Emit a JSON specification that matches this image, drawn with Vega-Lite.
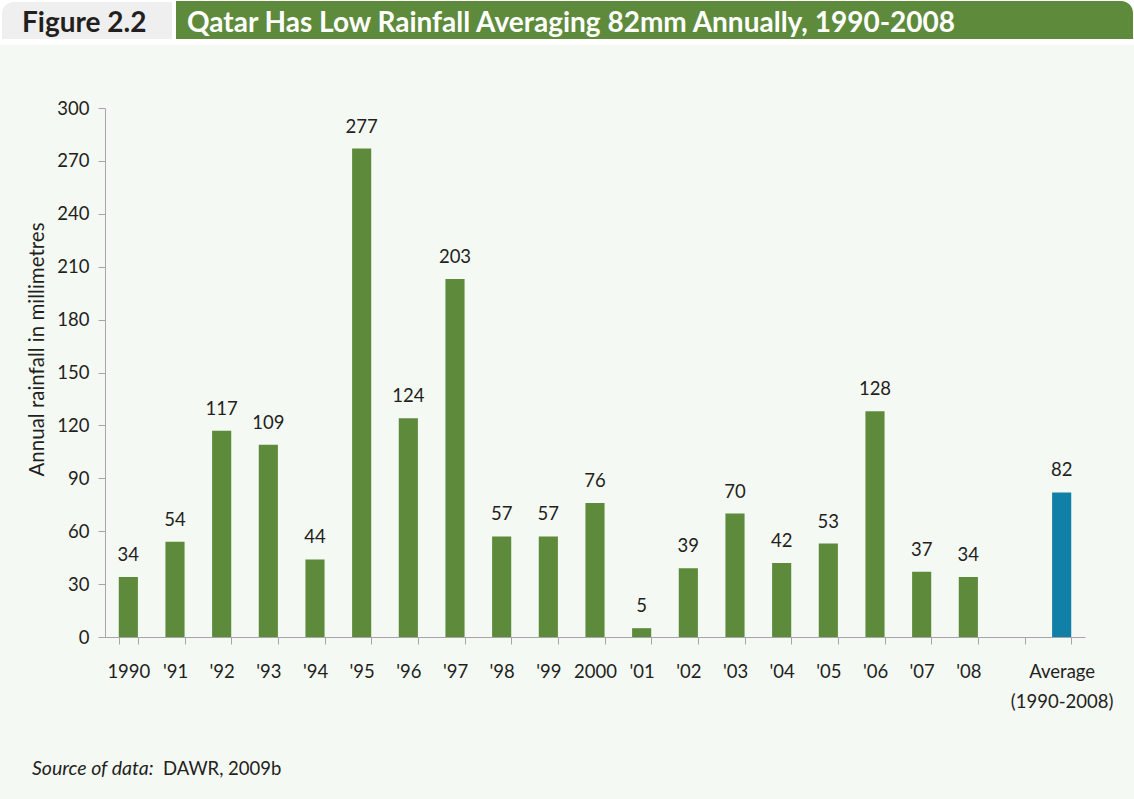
{
  "$schema": "https://vega.github.io/schema/vega-lite/v6.json",
  "width": 980,
  "height": 529,
  "autosize": {"type": "none"},
  "padding": {"left": 105, "top": 108, "right": 49, "bottom": 162},
  "background": "#ffffff",
  "config": {
    "view": {"stroke": null},
    "font": "Lato",
    "text": {"font": "Lato"}
  },
  "datasets": {
    "rain": [
      {"year": "1990", "rainfall": 34, "kind": "year"},
      {"year": "'91", "rainfall": 54, "kind": "year"},
      {"year": "'92", "rainfall": 117, "kind": "year"},
      {"year": "'93", "rainfall": 109, "kind": "year"},
      {"year": "'94", "rainfall": 44, "kind": "year"},
      {"year": "'95", "rainfall": 277, "kind": "year"},
      {"year": "'96", "rainfall": 124, "kind": "year"},
      {"year": "'97", "rainfall": 203, "kind": "year"},
      {"year": "'98", "rainfall": 57, "kind": "year"},
      {"year": "'99", "rainfall": 57, "kind": "year"},
      {"year": "2000", "rainfall": 76, "kind": "year"},
      {"year": "'01", "rainfall": 5, "kind": "year"},
      {"year": "'02", "rainfall": 39, "kind": "year"},
      {"year": "'03", "rainfall": 70, "kind": "year"},
      {"year": "'04", "rainfall": 42, "kind": "year"},
      {"year": "'05", "rainfall": 53, "kind": "year"},
      {"year": "'06", "rainfall": 128, "kind": "year"},
      {"year": "'07", "rainfall": 37, "kind": "year"},
      {"year": "'08", "rainfall": 34, "kind": "year"},
      {"year": "Average", "rainfall": 82, "kind": "average"}
    ]
  },
  "layer": [
    {
      "data": {"values": [{}]},
      "mark": {"type": "rect", "fill": "#f5f9f4", "clip": false},
      "encoding": {
        "x": {"value": -105}, "x2": {"value": 1029},
        "y": {"value": -63}, "y2": {"value": 691}
      }
    },
    {
      "data": {"values": [{}]},
      "mark": {"type": "rect", "fill": "#efefef", "cornerRadiusTopLeft": 12, "clip": false},
      "encoding": {
        "x": {"value": -103}, "x2": {"value": 67},
        "y": {"value": -106}, "y2": {"value": -69}
      }
    },
    {
      "data": {"values": [{}]},
      "mark": {"type": "rect", "fill": "#5e8a3c", "cornerRadiusTopRight": 12, "clip": false},
      "encoding": {
        "x": {"value": 71}, "x2": {"value": 1028},
        "y": {"value": -107}, "y2": {"value": -69}
      }
    },
    {
      "data": {"values": [{"t": "Figure 2.2"}]},
      "mark": {"type": "text", "font": "Lato", "fontWeight": "bold", "fontSize": 28, "align": "left", "baseline": "alphabetic", "color": "#231f20"},
      "encoding": {"x": {"value": -83}, "y": {"value": -76}, "text": {"field": "t"}}
    },
    {
      "data": {"values": [{"t": "Qatar Has Low Rainfall Averaging 82mm Annually, 1990-2008"}]},
      "mark": {"type": "text", "font": "Lato", "fontWeight": "bold", "fontSize": 28, "align": "left", "baseline": "alphabetic", "color": "#ffffff"},
      "encoding": {"x": {"value": 82}, "y": {"value": -76}, "text": {"field": "t"}}
    },
    {
      "data": {"values": [{"t": "Source of data:"}]},
      "mark": {"type": "text", "font": "Lato", "fontStyle": "italic", "fontSize": 19.5, "align": "left", "baseline": "alphabetic", "color": "#231f20"},
      "encoding": {"x": {"value": -73}, "y": {"value": 667}, "text": {"field": "t"}}
    },
    {
      "data": {"values": [{"t": "DAWR, 2009b"}]},
      "mark": {"type": "text", "font": "Lato", "fontSize": 18.5, "align": "left", "baseline": "alphabetic", "color": "#231f20"},
      "encoding": {"x": {"value": 58}, "y": {"value": 667}, "text": {"field": "t"}}
    },
    {
      "data": {"name": "rain"},
      "mark": {"type": "bar"},
      "encoding": {
        "x": {
          "field": "year", "type": "nominal", "sort": null,
          "scale": {
            "domain": ["1990", "'91", "'92", "'93", "'94", "'95", "'96", "'97", "'98", "'99", "2000", "'01", "'02", "'03", "'04", "'05", "'06", "'07", "'08", " ", "Average"],
            "paddingInner": 0.59, "paddingOuter": 0.295
          },
          "axis": {
            "zindex": 1,
            "title": null,
            "labelAngle": 0,
            "labelFont": "Lato",
            "labelFontSize": 18.5,
            "labelColor": "#231f20",
            "labelPadding": 18,
            "labelLineHeight": 30,
            "labelExpr": "datum.value == 'Average' ? ['Average', '(1990-2008)'] : datum.value",
            "tickBand": "extent",
            "tickSize": 7,
            "tickColor": "#a6a6a6",
            "domainColor": "#a6a6a6",
            "labelOverlap": false
          }
        },
        "y": {
          "field": "rainfall", "type": "quantitative",
          "scale": {"domain": [0, 300], "nice": false},
          "axis": {
            "zindex": 1,
            "title": "Annual rainfall in millimetres",
            "titleFont": "Lato",
            "titleFontSize": 20.5,
            "titleFontWeight": "normal",
            "titleColor": "#231f20",
            "titleAngle": -90,
            "titleAlign": "center",
            "titleBaseline": "alphabetic",
            "titleX": -62,
            "titleY": 241,
            "values": [0, 30, 60, 90, 120, 150, 180, 210, 240, 270, 300],
            "grid": false,
            "labelFont": "Lato",
            "labelFontSize": 18.5,
            "labelColor": "#231f20",
            "labelPadding": 9,
            "tickSize": 7,
            "tickColor": "#a6a6a6",
            "domainColor": "#a6a6a6"
          }
        },
        "color": {
          "field": "kind", "type": "nominal",
          "scale": {"domain": ["year", "average"], "range": ["#5e8a3c", "#1080a6"]},
          "legend": null
        }
      }
    },
    {
      "data": {"name": "rain"},
      "mark": {"type": "text", "font": "Lato", "fontSize": 18.5, "baseline": "alphabetic", "dy": -16, "color": "#231f20"},
      "encoding": {
        "x": {"field": "year", "type": "nominal", "sort": null},
        "y": {"field": "rainfall", "type": "quantitative"},
        "text": {"field": "rainfall", "type": "quantitative"}
      }
    }
  ]
}
